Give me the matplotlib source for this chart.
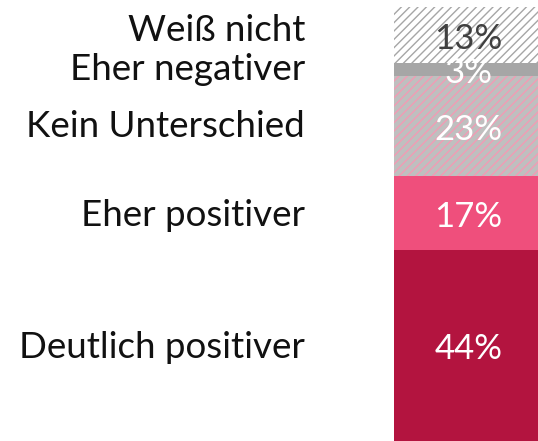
import matplotlib
matplotlib.use("Agg")
import matplotlib.pyplot as plt

# stacked from bottom to top
categories = ["Deutlich positiver", "Eher positiver", "Kein Unterschied",
              "Eher negativer", "Weiß nicht"]
values = [44, 17, 23, 3, 13]
value_labels = ["44%", "17%", "23%", "3%", "13%"]

face_colors = ["#b3143f", "#ef4f7c", "#bfbfbf", "#a6a6a6", "#ffffff"]
hatch_colors = [None, None, "#f29bb4", None, "#a6a6a6"]
text_colors = ["white", "white", "white", "white", "#404040"]
label_shift = [-0.5, -0.5, 0, 0.2, 1.0]  # nudges so the top labels don't collide

plt.rcParams["font.family"] = ["Lato", "DejaVu Sans"]
plt.rcParams["hatch.linewidth"] = 1.0

W, H = 538, 441
fig = plt.figure(figsize=(W / 100, H / 100), dpi=100)
ax = fig.add_axes([394 / W, 0, 144 / W, 434 / H])

bottom = 0
for cat, val, lab, fc, hc, tc, dy in zip(categories, values, value_labels,
                                         face_colors, hatch_colors, text_colors,
                                         label_shift):
    if hc:
        ax.bar(0, val, bottom=bottom, width=1.0, color=fc, edgecolor=hc,
               hatch="////", linewidth=0)
    else:
        ax.bar(0, val, bottom=bottom, width=1.0, color=fc, linewidth=0)
    mid = bottom + val / 2
    ax.text(0.017, mid - 0.8, lab, ha="center", va="center", fontsize=25,
            color=tc)
    ax.text(-0.5 - 89 / 144, mid + dy, cat, ha="right", va="center",
            fontsize=26.5, color="#111111", clip_on=False)
    bottom += val

ax.set_xlim(-0.5, 0.5)
ax.set_ylim(0, 100)
ax.axis("off")

fig.savefig("out.png", dpi=100)
